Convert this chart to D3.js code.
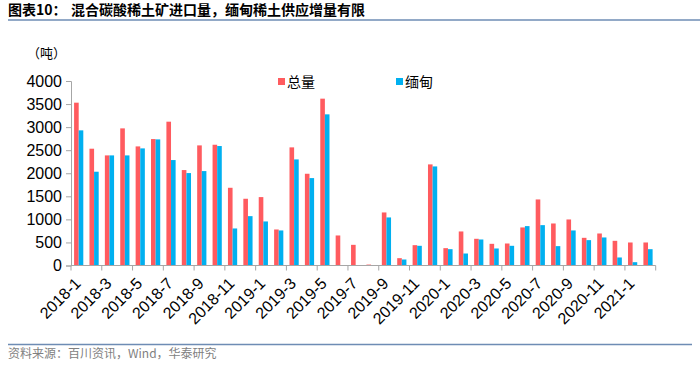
<!DOCTYPE html>
<html><head><meta charset="utf-8">
<script src="https://cdn.jsdelivr.net/npm/d3@7/dist/d3.min.js"></script>
<style>
body{margin:0;background:#fff;}
svg{display:block;}
</style></head>
<body>
<svg id="c" width="700" height="369"></svg>
<script>
const categories = ["2018-1","2018-2","2018-3","2018-4","2018-5","2018-6","2018-7","2018-8","2018-9","2018-10","2018-11","2018-12",
"2019-1","2019-2","2019-3","2019-4","2019-5","2019-6","2019-7","2019-8","2019-9","2019-10","2019-11","2019-12",
"2020-1","2020-2","2020-3","2020-4","2020-5","2020-6","2020-7","2020-8","2020-9","2020-10","2020-11","2020-12",
"2021-1","2021-2"];
const totalValues = [3530,2532,2387,2973,2582,2741,3118,2069,2604,2618,1685,1447,
1483,781,2561,1989,3617,651,448,20,1150,159,441,2192,
376,738,579,470,477,825,1432,911,998,600,694,535,
499,499];
const myanmarValues = [2930,2033,2387,2387,2539,2734,2286,2004,2047,2590,803,1070,
955,760,2300,1895,3277,0,0,0,1042,130,427,2148,
354,260,564,369,427,854,875,420,760,550,608,174,
72,354];
const seriesNames = ["总量","缅甸"];
const yTicks = [0,500,1000,1500,2000,2500,3000,3500,4000];
const colors = ["#FF5B5F","#00B0F0"];

const svg = d3.select("#c");
const L = 71, R = 655.7, T = 81, B = 265.5;

// title
const title = svg.append("text").attr("x",8).attr("y",15)
  .attr("font-family","'Noto Sans CJK SC'").attr("font-weight","bold").attr("font-size",14)
  .attr("fill","#000");
title.append("tspan").text("图表10：");
title.append("tspan").attr("x",71).text("混合碳酸稀土矿进口量，缅甸稀土供应增量有限");
svg.append("line").attr("x1",8).attr("x2",700).attr("y1",20).attr("y2",20)
  .attr("stroke","#6E8CB4").attr("stroke-width",1.5);
svg.append("line").attr("x1",8).attr("x2",692).attr("y1",344.5).attr("y2",344.5)
  .attr("stroke","#6E8CB4").attr("stroke-width",1.5);
svg.append("text").attr("x",8).attr("y",357.5)
  .attr("font-family","'Noto Sans CJK SC'").attr("font-size",12)
  .attr("fill","#7F7F7F").text("资料来源：百川资讯，Wind，华泰研究");

svg.append("text").attr("x",27).attr("y",58)
  .attr("font-family","'Noto Sans CJK SC'").attr("font-size",13)
  .attr("fill","#000").text("（吨）");

const x0 = d3.scaleBand().domain(categories).range([L,R]).padding(0);
const x1 = d3.scaleBand().domain(seriesNames).range([0,x0.bandwidth()]).paddingInner(0).paddingOuter(0.67);
const y = d3.scaleLinear().domain([0,4000]).range([B,T]);

// bars
const data = categories.map((c,i)=>({c, v:[totalValues[i], myanmarValues[i]]}));
const g = svg.append("g");
seriesNames.forEach((s,si)=>{
  g.selectAll(null).data(data).enter().append("rect")
    .attr("x",d=>x0(d.c)+x1(s))
    .attr("width",x1.bandwidth())
    .attr("y",d=>y(d.v[si]))
    .attr("height",d=>B-y(d.v[si]))
    .attr("fill",colors[si]);
});

// y axis
const yAxis = d3.axisLeft(y).tickValues(yTicks).tickSize(5).tickPadding(4).tickFormat(d3.format("d"));
const ya = svg.append("g").attr("transform",`translate(${L},0)`).call(yAxis);
ya.select(".domain").attr("stroke","#A6A6A6");
ya.selectAll(".tick line").attr("stroke","#A6A6A6");
ya.selectAll(".tick text").attr("font-family","'Liberation Sans', Arial, sans-serif").attr("font-size",16).attr("fill","#000");

// x axis
const xa = svg.append("g").attr("transform",`translate(0,${B})`);
xa.append("line").attr("x1",L).attr("x2",R).attr("y1",0).attr("y2",0).attr("stroke","#A6A6A6");
const tickIdx = d3.range(0, categories.length+1, 2);
xa.selectAll(null).data(tickIdx).enter().append("line")
  .attr("x1",i=> i<categories.length ? x0(categories[i]) : R)
  .attr("x2",i=> i<categories.length ? x0(categories[i]) : R)
  .attr("y1",0).attr("y2",5).attr("stroke","#A6A6A6");
const labelCats = categories.filter((c,i)=>i%2===0);
xa.selectAll(null).data(labelCats).enter().append("text")
  .attr("transform",d=>`translate(${x0(d)+x0.bandwidth()/2+3},${19}) rotate(-45)`)
  .attr("text-anchor","end")
  .attr("font-family","'Liberation Sans', Arial, sans-serif").attr("font-size",16).attr("fill","#000")
  .text(d=>d);

// legend
const leg = [{x:278,n:seriesNames[0],c:colors[0]},{x:396,n:seriesNames[1],c:colors[1]}];
leg.forEach(l=>{
  svg.append("rect").attr("x",l.x).attr("y",78).attr("width",7).attr("height",7).attr("fill",l.c);
  svg.append("text").attr("x",l.x+9).attr("y",87).attr("font-family","'Noto Sans CJK SC'")
    .attr("font-size",14).attr("fill","#000").text(l.n);
});
</script>
</body></html>
